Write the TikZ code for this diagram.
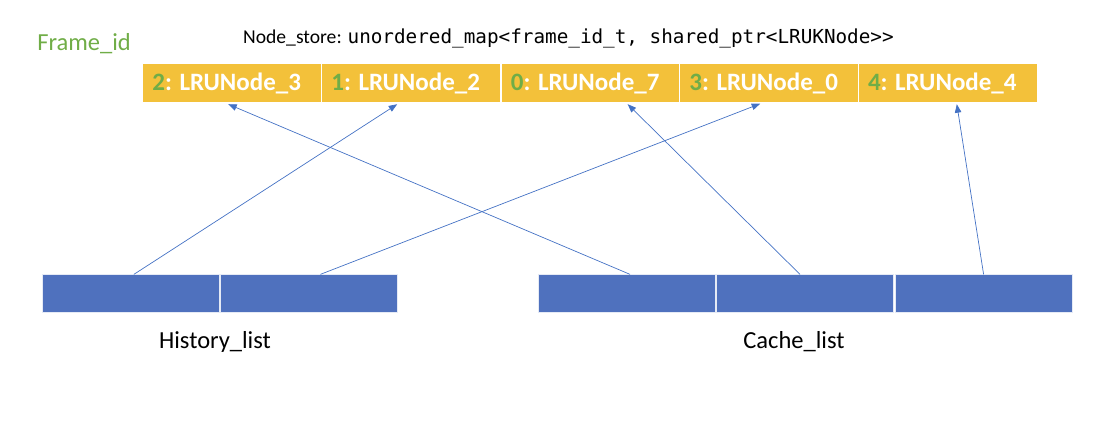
\documentclass[tikz,border=0pt]{standalone}
\usepackage{fontspec}
\setmainfont{Carlito}
\newfontfamily\codefont{DejaVu Sans Mono}
\usetikzlibrary{arrows.meta,calc}
\definecolor{gold}{HTML}{F3C13A}
\definecolor{listblue}{HTML}{4F71BE}
\definecolor{idgreen}{HTML}{70AD47}
\definecolor{arrowblue}{HTML}{4472C4}
\tikzset{
  slot/.style={fill=gold, minimum width=177.5pt, minimum height=37.4pt, inner sep=0pt, outer sep=0pt,
    text=white, font=\fontsize{25}{26}\selectfont\bfseries},
  cell/.style={fill=listblue, draw=white!85!listblue, line width=0.6pt, minimum width=177pt, minimum height=37.7pt, inner sep=0pt, outer sep=0pt},
  label/.style={font=\fontsize{24.5}{26}\selectfont, inner sep=0pt},
  ptr/.style={draw=arrowblue, line width=0.7pt, -{Triangle[length=8.5pt,width=6.5pt]}},
}
\newcommand{\fid}[1]{\textcolor{idgreen}{#1}}
\begin{document}
\begin{tikzpicture}[x=1pt,y=-1pt]
\useasboundingbox (0,0) rectangle (1105,421);
% title
\node[font=\fontsize{24.5}{26}\selectfont, text=idgreen, inner sep=0pt] (fid) at (84,44) {Frame\_id};
\node[anchor=west, inner sep=0pt, font=\fontsize{19.6}{21}\selectfont] (store) at (243,38)
  {Node\_store: {\codefont\fontsize{19.3}{21}\selectfont unordered\_map<frame\_id\_t, shared\_ptr<LRUKNode>>}};
% map slots
\node[slot] (y1) at (232.2,83) {\hspace*{-11pt}\fid{2}: LRUNode\_3};
\node[slot] (y2) at (411.2,83) {\hspace*{-11pt}\fid{1}: LRUNode\_2};
\node[slot] (y3) at (590.7,83) {\hspace*{-11pt}\fid{0}: LRUNode\_7};
\node[slot] (y4) at (769.2,83) {\hspace*{-11pt}\fid{3}: LRUNode\_0};
\node[slot] (y5) at (947.8,83) {\hspace*{-11pt}\fid{4}: LRUNode\_4};
% lists
\node[cell] (h1) at (130.4,293.2) {};
\node[cell] (h2) at (308.9,293.2) {};
\node[cell] (c1) at (626.5,293.2) {};
\node[cell] (c2) at (805.0,293.2) {};
\node[cell] (c3) at (983.3,293.2) {};
\node[label] (hl) at (215,342) {History\_list};
\node[label] (cl) at (794,342) {Cache\_list};
% pointers
\coordinate (h1p) at ($(h1.north)+(3.5,0)$);
\coordinate (h2p) at ($(h2.north)+(11.5,0)$);
\coordinate (c1p) at ($(c1.north)+(3.5,0)$);
\coordinate (c2p) at ($(c2.north)+(-5,0)$);
\coordinate (c3p) at ($(c3.north)+(0.3,0)$);
\coordinate (y1p) at ($(y1.south)+(-4,2.5)$);
\coordinate (y2p) at ($(y2.south)+(-14,2.5)$);
\coordinate (y3p) at ($(y3.south)+(37,2.5)$);
\coordinate (y4p) at ($(y4.south)+(-9,2)$);
\coordinate (y5p) at ($(y5.south)+(9,2.5)$);
\draw[ptr] (h1p) -- (y2p);
\draw[ptr] (h2p) -- (y4p);
\draw[ptr] (c1p) -- (y1p);
\draw[ptr] (c2p) -- (y3p);
\draw[ptr] (c3p) -- (y5p);
\end{tikzpicture}
\end{document}
